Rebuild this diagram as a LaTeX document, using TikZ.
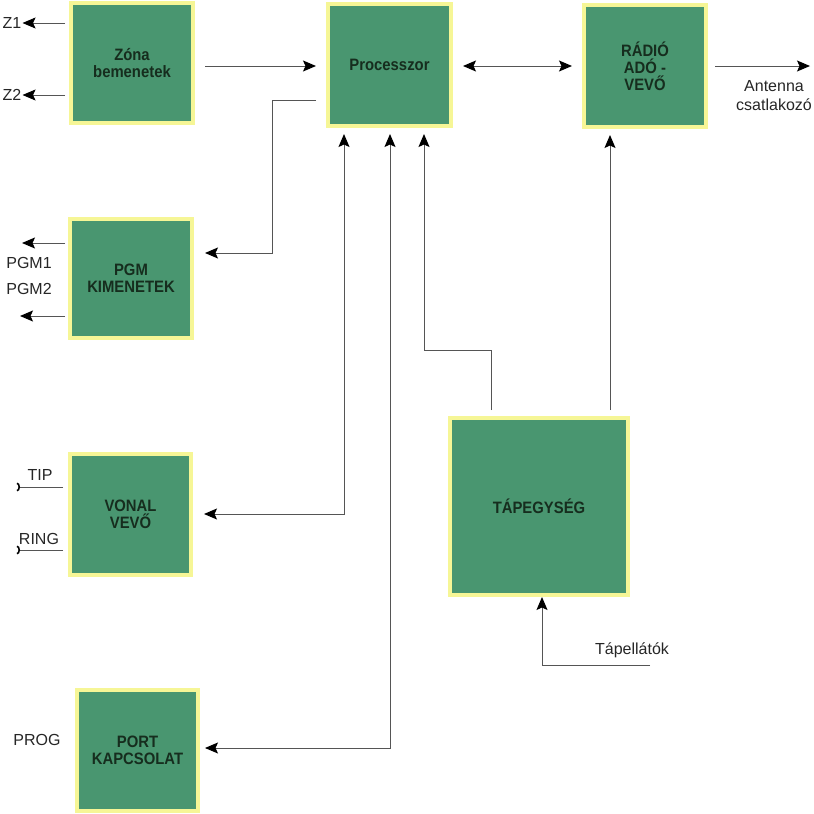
\documentclass[tikz,border=0pt]{standalone}
\usepackage{fontspec}
\setmainfont{Liberation Sans}
\newfontfamily\boxfont[FakeStretch=0.9]{Liberation Sans}
\usetikzlibrary{arrows.meta}
\definecolor{boxgreen}{RGB}{73,150,112}
\definecolor{boxrim}{RGB}{246,246,150}
\definecolor{boxtext}{RGB}{22,45,30}
\definecolor{wire}{RGB}{85,85,85}
\begin{document}
\begin{tikzpicture}[x=1pt,y=-1pt,
  blk/.style={draw=boxrim, line width=4pt, fill=boxgreen, text=boxtext,
    font=\boxfont\bfseries\fontsize{16.5}{17}\selectfont, align=center, inner sep=0pt},
  lbl/.style={font=\fontsize{16}{19}\selectfont, inner sep=1pt, text=black!85},
  wirestyle/.style={draw=wire, line width=1pt},
  tipshape/.style={},
  arr/.style={wirestyle, -{Stealth[length=13pt,width=11pt,inset=2.5pt,color=black]}},
  darr/.style={wirestyle, {Stealth[length=13pt,width=11pt,inset=2.5pt,color=black]}-{Stealth[length=13pt,width=11pt,inset=2.5pt,color=black]}},
  barb/.style={wirestyle, -{Arc Barb[reversed,length=3pt,width=9pt,color=black,line width=1.6pt]}}
]
\useasboundingbox (0,0) rectangle (814,814);

% blocks
\node[blk, minimum width=122pt, minimum height=120pt] (zona) at (132,63) {Zóna\\bemenetek};
\node[blk, minimum width=123pt, minimum height=122pt] (proc) at (389.5,65) {Processzor};
\node[blk, minimum width=122pt, minimum height=122pt] (radio) at (645,66) {RÁDIÓ\\ADÓ -\\VEVŐ};
\node[blk, minimum width=122pt, minimum height=119pt] (pgm) at (131,278.5) {PGM\\KIMENETEK};
\node[blk, minimum width=121pt, minimum height=121pt] (vonal) at (130.5,514.5) {VONAL\\VEVŐ};
\node[blk, minimum width=121pt, minimum height=121pt] (port) at (137.5,750.5) {PORT\\KAPCSOLAT};
\node[blk, minimum width=178pt, minimum height=177pt] (tap) at (539,506.5) {TÁPEGYSÉG};

% labels
\node[lbl] (z1) at (12,23) {Z1};
\node[lbl] (z2) at (12,95) {Z2};
\node[lbl] (pgm1) at (29,263) {PGM1};
\node[lbl] (pgm2) at (29,289) {PGM2};
\node[lbl] (tip) at (40,475) {TIP};
\node[lbl] (ring) at (39,539) {RING};
\node[lbl] (prog) at (37,740) {PROG};
\node[lbl, align=center] (ant) at (774,96) {Antenna\\csatlakozó};
\node[lbl] (tapl) at (632,650) {Tápellátók};

% free ends
\coordinate (pgmoneend) at (22,243);
\coordinate (pgmtwoend) at (20,316);
\coordinate (tipend) at (17,487);
\coordinate (ringend) at (17,550);
\coordinate (antend) at (810,66);
\coordinate (tapin) at (650,665);

% connectors
\draw[arr, shorten <=4pt] (zona.west |- 0,23) -- (z1.east);
\draw[arr, shorten <=4pt] (zona.west |- 0,95) -- (z2.east);
\draw[arr, shorten <=3pt] (pgm.west |- 0,243) -- (pgmoneend);
\draw[arr, shorten <=3pt] (pgm.west |- 0,316) -- (pgmtwoend);
\draw[barb, shorten <=5pt] (vonal.west |- 0,487) -- (tipend);
\draw[barb, shorten <=5pt] (vonal.west |- 0,550) -- (ringend);

\draw[arr, shorten <=10pt, shorten >=10pt] (zona.east |- 0,66) -- (proc.west |- 0,66);
\draw[darr, shorten <=10pt, shorten >=10pt] (proc.east |- 0,66) -- (radio.west |- 0,66);
\draw[arr, shorten <=7pt] (radio.east |- 0,66) -- (antend);

\draw[arr] ([xshift=-10pt]proc.west |- 0,100) -- (272,100) |- ([xshift=11pt]pgm.east |- 0,253);
\draw[darr] ([xshift=11pt]vonal.east |- 0,514) -| ([yshift=-6pt]proc.south -| 344,0);
\draw[darr] ([xshift=5pt]port.east |- 0,748) -| ([yshift=-6pt]proc.south -| 390,0);
\draw[arr] ([yshift=6pt]tap.north -| 491,0) |- (424,350) -- ([yshift=-6pt]proc.south -| 424,0);
\draw[arr] ([yshift=6pt]tap.north -| 610,0) -- ([yshift=-6pt]radio.south -| 610,0);
\draw[arr] (tapin) -| (tap.south -| 542,0);
\end{tikzpicture}
\end{document}
